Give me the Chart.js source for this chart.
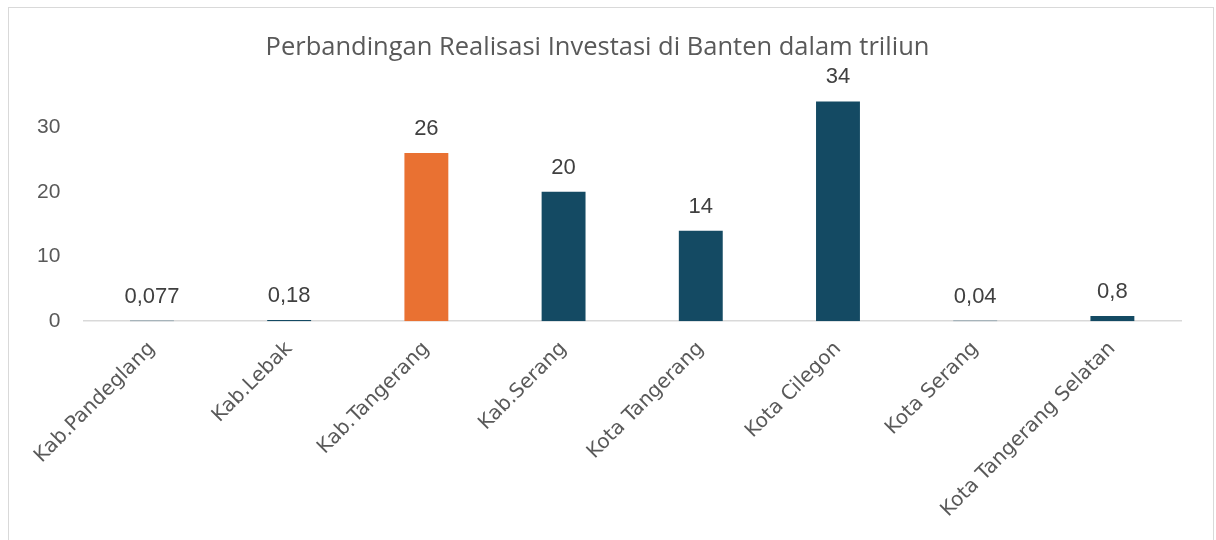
<!DOCTYPE html>
<html>
<head>
<meta charset="utf-8">
<script src="https://cdn.jsdelivr.net/npm/chart.js@4.4.1/dist/chart.umd.min.js"></script>
<style>
  html, body { margin: 0; padding: 0; background: #fff; }
  #wrap { position: relative; width: 1216px; height: 540px; overflow: hidden; }
  #frame { position: absolute; left: 8px; top: 7px; width: 1204px; height: 600px; border: 1px solid #d9d9d9; pointer-events: none; }
  canvas { position: absolute; left: 0; top: 0; }
</style>
</head>
<body>
<div id="wrap">
  <canvas id="c" width="1216" height="540"></canvas>
  <div id="frame"></div>
</div>
<script>
const categories = ["Kab.Pandeglang", "Kab.Lebak", "Kab.Tangerang", "Kab.Serang", "Kota Tangerang", "Kota Cilegon", "Kota Serang", "Kota Tangerang Selatan"];
const values = [0.077, 0.18, 26, 20, 14, 34, 0.04, 0.8];
const tickValues = [0, 10, 20, 30];
const barColors = ["#144a63", "#144a63", "#e97132", "#144a63", "#144a63", "#144a63", "#144a63", "#144a63"];
const titleText = "Perbandingan Realisasi Investasi di Banten dalam triliun";

const fmt = v => String(v).replace('.', ',');

const valueLabels = {
  id: 'valueLabels',
  afterDatasetsDraw(chart) {
    const ctx = chart.ctx;
    const meta = chart.getDatasetMeta(0);
    ctx.save();
    ctx.font = '22px "Liberation Sans", Arial, sans-serif';
    ctx.fillStyle = '#404040';
    ctx.textAlign = 'center';
    ctx.textBaseline = 'alphabetic';
    meta.data.forEach((bar, i) => {
      ctx.fillText(fmt(values[i]), bar.x, bar.y - 18);
    });
    ctx.restore();
  }
};

new Chart(document.getElementById('c'), {
  type: 'bar',
  data: {
    labels: categories,
    datasets: [{
      data: values,
      backgroundColor: barColors,
      borderWidth: 0,
      barPercentage: 0.32,
      categoryPercentage: 1.0
    }]
  },
  options: {
    responsive: false,
    animation: false,
    devicePixelRatio: 1,
    layout: { padding: { left: 14, right: 35, top: 0, bottom: 2 } },
    plugins: {
      legend: { display: false },
      tooltip: { enabled: false },
      title: {
        display: true,
        text: titleText,
        color: '#595959',
        font: { family: '"Open Sans", sans-serif', size: 25.5, weight: 'normal' },
        padding: { top: 32, bottom: 0 }
      }
    },
    scales: {
      x: {
        grid: { display: false, drawTicks: false },
        border: { display: true, color: '#d9d9d9', width: 1.5 },
        ticks: {
          color: '#595959',
          font: { family: '"DejaVu Sans", sans-serif', size: 20 },
          minRotation: 45,
          maxRotation: 45,
          padding: 16
        }
      },
      y: {
        min: 0,
        max: 40,
        grid: { display: false, drawTicks: false },
        border: { display: false },
        afterBuildTicks(scale) { scale.ticks = tickValues.map(v => ({ value: v })); },
        ticks: {
          color: '#595959',
          font: { family: '"Liberation Sans", Arial, sans-serif', size: 21 },
          padding: 23
        }
      }
    }
  },
  plugins: [valueLabels]
});
</script>
</body>
</html>
